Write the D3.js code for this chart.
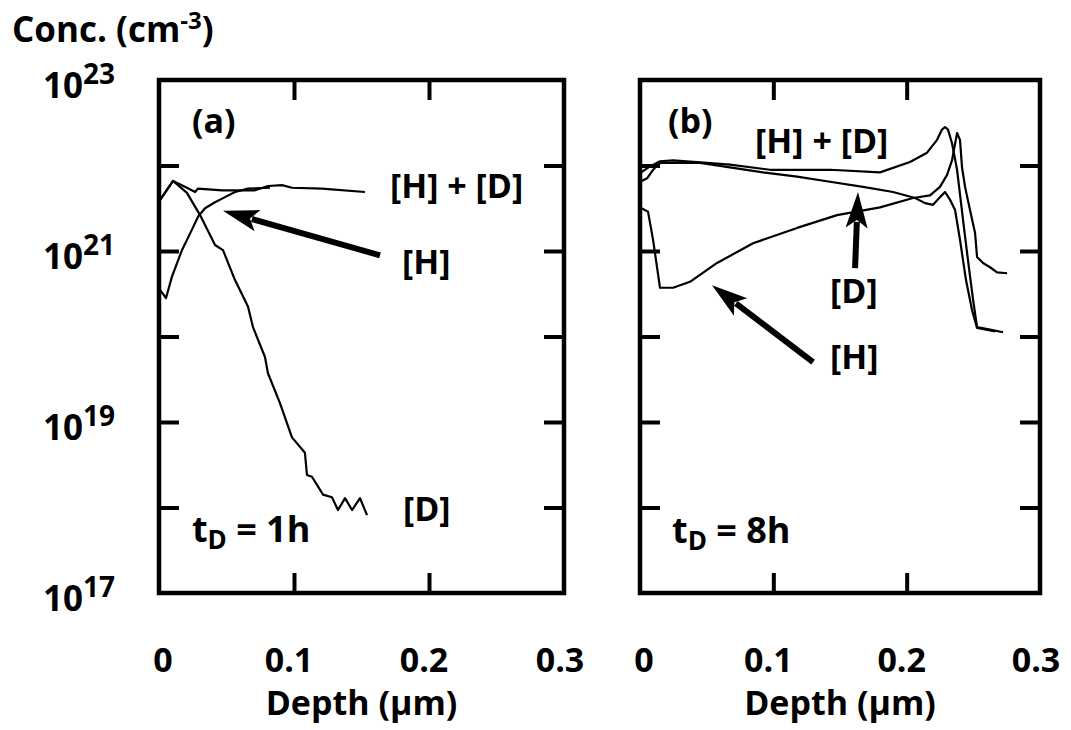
<!DOCTYPE html>
<html>
<head>
<meta charset="utf-8">
<script src="https://cdn.jsdelivr.net/npm/d3@7"></script>
<style>
  body { margin: 0; background: #fff; }
  svg text { font-family: "Open Sans", sans-serif; font-weight: 700; fill: #000; }
</style>
</head>
<body>
<svg id="chart" width="1071" height="730"></svg>
<script>
// depth ticks (um) and concentration decades (log10 cm^-3)
const depthTicks = [0, 0.1, 0.2, 0.3];
const decadeTicks = [18, 19, 20, 21, 22];
const decadeLabels = [17, 19, 21, 23];

// panel (a), tD = 1h : [depth (um), log10 conc]
const aD = [[0.001, 21.60], [0.0104, 21.82], [0.0207, 21.68], [0.0304, 21.42], [0.0415, 21.07],
  [0.0474, 21.01], [0.0563, 20.66], [0.0659, 20.35], [0.0696, 20.11], [0.0785, 19.76],
  [0.0807, 19.57], [0.0896, 19.22], [0.0985, 18.82], [0.1081, 18.64], [0.1096, 18.38],
  [0.1133, 18.36], [0.1215, 18.15], [0.1281, 18.12], [0.1326, 17.97], [0.1378, 18.11],
  [0.1430, 17.97], [0.1489, 18.11], [0.1541, 17.91]];
const aHD = [[0.001, 21.60], [0.0104, 21.82], [0.0207, 21.74], [0.0267, 21.69], [0.0289, 21.73],
  [0.0467, 21.71], [0.0711, 21.71], [0.0807, 21.76], [0.0911, 21.77], [0.0985, 21.74],
  [0.1207, 21.73], [0.1526, 21.69]];
const aH = [[0.001, 20.54], [0.0052, 20.45], [0.0096, 20.70], [0.0170, 21.01], [0.0244, 21.25],
  [0.0289, 21.40], [0.0341, 21.50], [0.0415, 21.57], [0.0489, 21.63], [0.0563, 21.69],
  [0.0659, 21.73], [0.0822, 21.74]];

// panel (b), tD = 8h
const bHD = [[0.0008, 21.92], [0.0075, 21.99], [0.015, 22.05], [0.0248, 22.06], [0.0428, 22.04],
  [0.0675, 22.01], [0.0975, 21.95], [0.1425, 21.95], [0.18, 21.92], [0.2025, 22.04],
  [0.2153, 22.15], [0.2228, 22.30], [0.2265, 22.42], [0.2288, 22.45], [0.231, 22.42],
  [0.234, 22.26], [0.2378, 21.95], [0.2423, 21.36], [0.246, 20.89], [0.2498, 20.43],
  [0.2528, 20.11], [0.2625, 20.08], [0.2723, 20.05]];
const bD = [[0.0, 21.81], [0.0053, 21.85], [0.0098, 21.95], [0.015, 22.03], [0.045, 22.03],
  [0.0923, 21.92], [0.1178, 21.87], [0.1425, 21.81], [0.1673, 21.75], [0.1898, 21.69],
  [0.2063, 21.62], [0.2138, 21.56], [0.2198, 21.54], [0.225, 21.63], [0.2288, 21.69],
  [0.2325, 21.60], [0.2363, 21.48], [0.24, 21.13], [0.2445, 20.66], [0.249, 20.31],
  [0.2528, 20.10], [0.2663, 20.06]];
const bH = [[0.0, 21.51], [0.006, 21.46], [0.0098, 21.13], [0.015, 20.57], [0.0248, 20.57],
  [0.0375, 20.64], [0.0578, 20.86], [0.0848, 21.09], [0.1178, 21.27], [0.1478, 21.42],
  [0.18, 21.51], [0.2048, 21.62], [0.2175, 21.65], [0.225, 21.75], [0.2303, 21.89],
  [0.234, 22.06], [0.2378, 22.38], [0.24, 22.30], [0.2415, 21.98], [0.2438, 21.75],
  [0.2475, 21.48], [0.2513, 21.21], [0.2528, 20.93], [0.2573, 20.86], [0.2625, 20.81],
  [0.2678, 20.75], [0.2753, 20.74]];

// labels and arrows, in data coordinates
const aLabels = [
  {text: "(a)", d: 0.0244, c: 22.38},
  {text: "[H] + [D]", d: 0.1711, c: 21.62},
  {text: "[H]", d: 0.18, c: 20.73},
  {text: "[D]", d: 0.1807, c: 17.84}
];
const aArrows = [{from: [0.1637, 20.95], to: [0.0474, 21.47]}];
const bLabels = [
  {text: "(b)", d: 0.021, c: 22.38},
  {text: "[H] + [D]", d: 0.0863, c: 22.15},
  {text: "[D]", d: 0.1425, c: 20.39},
  {text: "[H]", d: 0.1425, c: 19.62}
];
const bArrows = [
  {from: [0.1613, 20.80], to: [0.1635, 21.69]},
  {from: [0.1298, 19.70], to: [0.054, 20.60]}
];

const svg = d3.select("#chart");
const plotTop = 80, plotBottom = 593, tickLen = 20;

const y = d3.scaleLog().domain([1e17, 1e23]).range([plotBottom, plotTop]);

const panels = [
  {left: 159, right: 564, series: [aD, aHD, aH], labels: aLabels, arrows: aArrows, time: "1h", timeAt: [0.0244, 17.60]},
  {left: 640, right: 1040, series: [bHD, bD, bH], labels: bLabels, arrows: bArrows, time: "8h", timeAt: [0.024, 17.58]}
];

function styleAxis(g) {
  g.select(".domain").remove();
  g.selectAll("line").attr("stroke", "#000").attr("stroke-width", 4);
}

panels.forEach(p => {
  const x = d3.scaleLinear().domain([0, 0.3]).range([p.left, p.right]);
  const g = svg.append("g");
  const decades = decadeTicks.map(e => Math.pow(10, e));

  g.append("g").attr("transform", `translate(0,${plotBottom})`)
    .call(d3.axisBottom(x).tickValues([0.1, 0.2]).tickSize(-tickLen).tickFormat("")).call(styleAxis);
  g.append("g").attr("transform", `translate(0,${plotTop})`)
    .call(d3.axisTop(x).tickValues([0.1, 0.2]).tickSize(-tickLen).tickFormat("")).call(styleAxis);
  g.append("g").attr("transform", `translate(${p.left},0)`)
    .call(d3.axisLeft(y).tickValues(decades).tickSize(-tickLen).tickFormat("")).call(styleAxis);
  g.append("g").attr("transform", `translate(${p.right},0)`)
    .call(d3.axisRight(y).tickValues(decades).tickSize(-tickLen).tickFormat("")).call(styleAxis);

  g.append("rect")
    .attr("x", p.left).attr("y", plotTop)
    .attr("width", p.right - p.left).attr("height", plotBottom - plotTop)
    .attr("fill", "none").attr("stroke", "#000").attr("stroke-width", 4.5);

  // x tick labels
  g.selectAll(".xl").data(depthTicks).join("text")
    .attr("class", "xl")
    .attr("x", d => x(d) + (d === 0 ? 4 : d === 0.3 ? -4 : -5))
    .attr("y", 672)
    .attr("text-anchor", "middle")
    .style("font-size", "34px")
    .text(d => d === 0 ? "0" : d3.format(".1f")(d));

  g.append("text")
    .attr("x", (p.left + p.right) / 2).attr("y", 715)
    .attr("text-anchor", "middle")
    .style("font-size", "34px")
    .text("Depth (\u00b5m)");

  // curves
  const line = d3.line().x(d => x(d[0])).y(d => y(Math.pow(10, d[1])));
  g.selectAll(".curve").data(p.series).join("path")
    .attr("class", "curve")
    .attr("d", line)
    .attr("fill", "none").attr("stroke", "#000")
    .attr("stroke-width", 2.2).attr("stroke-linejoin", "round");

  // labels
  g.selectAll(".lab").data(p.labels).join("text")
    .attr("class", "lab")
    .attr("x", d => x(d.d)).attr("y", d => y(Math.pow(10, d.c)))
    .style("font-size", "34px")
    .text(d => d.text);

  const tt = g.append("text")
    .attr("x", x(p.timeAt[0])).attr("y", y(Math.pow(10, p.timeAt[1])))
    .style("font-size", "36px");
  tt.append("tspan").text("t");
  tt.append("tspan").attr("dy", 7).style("font-size", "26px").text("D");
  tt.append("tspan").attr("dy", -7).text(" = " + p.time);

  // arrows
  p.arrows.forEach(a => {
    const x0 = x(a.from[0]), y0 = y(Math.pow(10, a.from[1]));
    const x1 = x(a.to[0]), y1 = y(Math.pow(10, a.to[1]));
    const len = Math.hypot(x1 - x0, y1 - y0);
    const ux = (x1 - x0) / len, uy = (y1 - y0) / len;
    const nx = -uy, ny = ux;
    const hl = 36, hw = 11, notch = 28;
    g.append("line")
      .attr("x1", x0).attr("y1", y0)
      .attr("x2", x1 - ux * 30).attr("y2", y1 - uy * 30)
      .attr("stroke", "#000").attr("stroke-width", 6);
    const pts = [
      [x1, y1],
      [x1 - ux * hl + nx * hw, y1 - uy * hl + ny * hw],
      [x1 - ux * notch, y1 - uy * notch],
      [x1 - ux * hl - nx * hw, y1 - uy * hl - ny * hw]
    ];
    g.append("path").attr("d", "M" + pts.map(q => q.join(",")).join("L") + "Z").attr("fill", "#000");
  });
});

// y axis labels (left of panel a)
const yl = svg.selectAll(".yl").data(decadeLabels).join("text")
  .attr("class", "yl")
  .attr("x", 43)
  .attr("y", d => y(Math.pow(10, d)) + 18)
  .style("font-size", "35px");
yl.append("tspan").text("10");
yl.append("tspan").attr("dy", -14).style("font-size", "28px").text(d => d);

const title = svg.append("text").attr("x", 12).attr("y", 42).style("font-size", "35px");
title.append("tspan").text("Conc. (cm");
title.append("tspan").attr("dy", -13).style("font-size", "24px").text("-3");
title.append("tspan").attr("dy", 13).text(")");
</script>
</body>
</html>
